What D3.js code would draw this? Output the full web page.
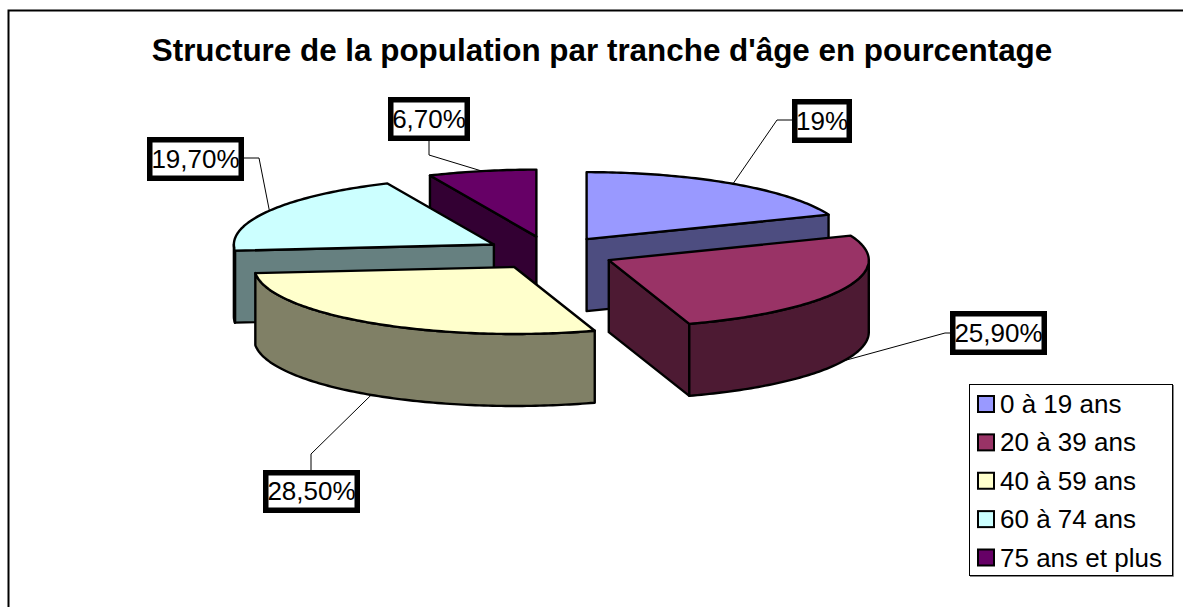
<!DOCTYPE html>
<html>
<head>
<meta charset="utf-8">
<script src="https://cdn.jsdelivr.net/npm/d3@7/dist/d3.min.js"></script>
<style>
html,body{margin:0;padding:0;background:#fff;overflow:hidden}
text{font-family:"Liberation Sans",Arial,sans-serif;fill:#000}
</style>
</head>
<body>
<svg id="c" width="1183" height="607"></svg>
<script>
const chartTitle = "Structure de la population par tranche d'âge en pourcentage";
const categories = ["0 à 19 ans","20 à 39 ans","40 à 59 ans","60 à 74 ans","75 ans et plus"];
const values = [19, 25.9, 28.5, 19.7, 6.7];
const valueLabels = ["19%","25,90%","28,50%","19,70%","6,70%"];
const topColors = ["#9999FF","#993366","#FFFFCC","#CCFFFF","#660066"];
const sideColors = ["#4D4D80","#4D1A33","#808066","#668080","#330033"];
const drawOrder = [4,0,3,2,1];

// layout only
const pieC = {x:550, y:253}, rx = 260, ry = 67, depth = 72, explode = 0.25;
const labelBoxes = [[792,99,852,143],[950,311,1047,355],[263,470,360,513],[147,137,244,181],[388,97,470,141]];
const leaderElbows = [[777,120,792,120],[945,333,950,333],[311,454,311,470],[259,158,244,158],[429,155,429,141]];

const svg = d3.select("#c");
svg.append("path").attr("d","M8.5,607V10.5H1183").attr("fill","none").attr("stroke","#000").attr("stroke-width",2);

svg.append("text").attr("x",602).attr("y",60.5).attr("text-anchor","middle")
  .attr("font-size",31.4).attr("font-weight","bold").text(chartTitle);

const arcs = d3.pie().sort(null)(values);
const ex = d3.scaleLinear().domain([-1,1]).range([-rx,rx]);
const ey = d3.scaleLinear().domain([-1,1]).range([-ry,ry]);
const pt = (c,a,dz=0)=>[c.x+ex(Math.sin(a)), c.y+ey(-Math.cos(a))+dz];
const line = d3.line();
const arcPts = (c,a0,a1,dz=0)=>{
  const n = Math.max(2,Math.ceil(Math.abs(a1-a0)*60));
  return d3.range(n+1).map(i=>pt(c,a0+(a1-a0)*i/n,dz));
};
const centers = arcs.map(d=>{
  const m=(d.startAngle+d.endAngle)/2;
  return {x:pieC.x+explode*ex(Math.sin(m)), y:pieC.y+explode*ey(-Math.cos(m))};
});

const g = svg.append("g").attr("stroke","#000").attr("stroke-width",2.4).attr("stroke-linejoin","round");
drawOrder.forEach(i=>{
  const d=arcs[i], c=centers[i], a0=d.startAngle, a1=d.endAngle;
  const down=p=>[p[0],p[1]+depth];
  const wall=a=>{const p=pt(c,a);return [[c.x,c.y],p,down(p),[c.x,c.y+depth]];};
  if(Math.sin(a0)<-1e-6) g.append("path").attr("d",line(wall(a0))+"Z").attr("fill",sideColors[i]);
  if(Math.sin(a1)>1e-6) g.append("path").attr("d",line(wall(a1))+"Z").attr("fill",sideColors[i]);
  const f0=Math.max(a0,Math.PI/2), f1=Math.min(a1,Math.PI*1.5);
  if(f1>f0){
    const t=arcPts(c,f0,f1);
    g.append("path").attr("d",line(t.concat(t.map(down).reverse()))+"Z").attr("fill",sideColors[i]);
  }
  g.append("path").attr("d",line([[c.x,c.y],...arcPts(c,a0,a1)])+"Z").attr("fill",topColors[i]);
});

// leaders + labels
arcs.forEach((d,i)=>{
  const m=(d.startAngle+d.endAngle)/2;
  const p=pt(centers[i],m,(m>Math.PI/2&&m<Math.PI*1.5)?depth:0);
  const e=leaderElbows[i];
  svg.append("path").attr("d",line([p,[e[0],e[1]],[e[2],e[3]]]))
    .attr("fill","none").attr("stroke","#000").attr("stroke-width",1);
  const b=labelBoxes[i], w=5.5;
  svg.append("rect").attr("x",b[0]+w/2).attr("y",b[1]+w/2)
    .attr("width",b[2]-b[0]-w).attr("height",b[3]-b[1]-w)
    .attr("fill","#fff").attr("stroke","#000").attr("stroke-width",w);
  svg.append("text").attr("x",(b[0]+b[2])/2).attr("y",(b[1]+b[3])/2+8.7)
    .attr("text-anchor","middle").attr("font-size",26).text(valueLabels[i]);
});

// legend
svg.append("path").attr("d","M1173.5,385V576.5H970").attr("fill","none").attr("stroke","#888").attr("stroke-width",1);
svg.append("rect").attr("x",969.5).attr("y",384.5).attr("width",203).attr("height",191)
  .attr("fill","#fff").attr("stroke","#000").attr("stroke-width",1);
const ly = d3.scalePoint().domain(categories).range([404,557.5]);
categories.forEach((c,i)=>{
  svg.append("rect").attr("x",978).attr("y",ly(c)-8).attr("width",16).attr("height",16)
    .attr("fill",topColors[i]).attr("stroke","#000").attr("stroke-width",2);
  svg.append("text").attr("x",1000).attr("y",ly(c)+9).attr("font-size",26).text(c);
});
</script>
</body>
</html>
